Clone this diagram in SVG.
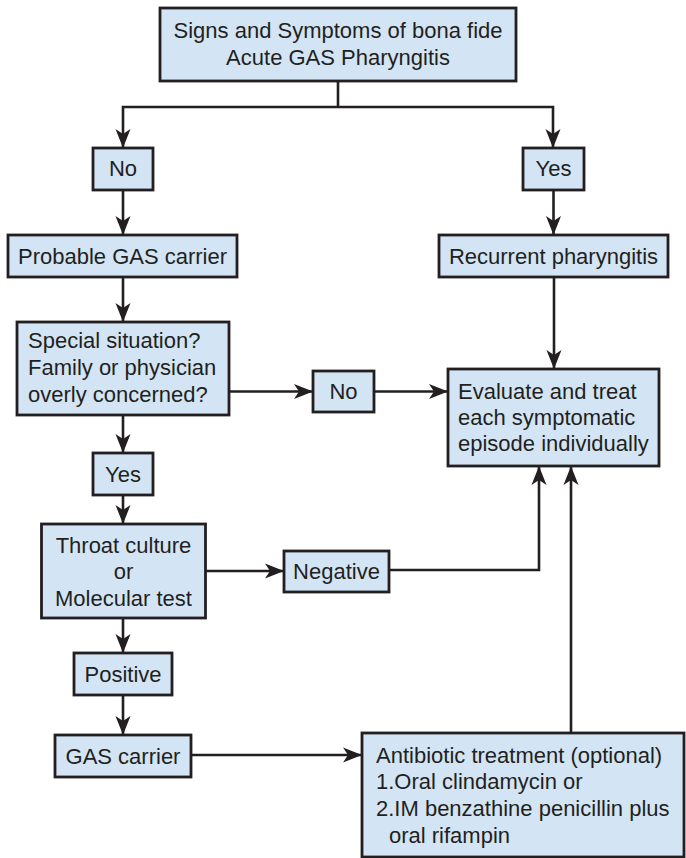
<svg xmlns="http://www.w3.org/2000/svg" width="686" height="858" viewBox="0 0 686 858">
<defs>
<marker id="ah" viewBox="-20 -8 21 16" refX="0" refY="0" markerWidth="21" markerHeight="16" markerUnits="userSpaceOnUse" orient="auto">
<path d="M0,0 L-19,-7.5 L-14,0 L-19,7.5 Z" fill="#231f20"/>
</marker>
<style>
.box{fill:#d3e5f5;stroke:#231f20;stroke-width:2.8}
.t{font-family:"Liberation Sans",Arial,sans-serif;font-size:22px;fill:#231f20}
.c{text-anchor:middle}
.ln{fill:none;stroke:#231f20;stroke-width:2.6}
.ar{fill:none;stroke:#231f20;stroke-width:2.6;marker-end:url(#ah)}
</style>
</defs>
<rect width="686" height="858" fill="#ffffff"/>
<g id="connectors">
<polyline class="ln" points="338,81 338,107"/>
<polyline class="ar" points="338,107 123,107 123,148"/>
<polyline class="ar" points="338,107 553,107 553,148"/>
<line class="ar" x1="123" y1="190" x2="123" y2="235"/>
<line class="ar" x1="553.5" y1="190" x2="553.5" y2="235"/>
<line class="ar" x1="123" y1="277" x2="123" y2="322"/>
<line class="ar" x1="554" y1="277" x2="554" y2="369"/>
<line class="ar" x1="229" y1="391.5" x2="313" y2="391.5"/>
<line class="ar" x1="374" y1="391.5" x2="448" y2="391.5"/>
<line class="ar" x1="123" y1="415" x2="123" y2="453"/>
<line class="ar" x1="123" y1="495" x2="123" y2="524"/>
<line class="ar" x1="205" y1="571" x2="284" y2="571"/>
<polyline class="ar" points="389,570 539,570 539,466"/>
<line class="ar" x1="123" y1="618" x2="123" y2="653"/>
<line class="ar" x1="123" y1="695" x2="123" y2="735"/>
<line class="ar" x1="191" y1="755" x2="362" y2="755"/>
<line class="ar" x1="571" y1="733" x2="571" y2="466"/>
</g>
<g id="n-signs">
<rect class="box" x="160" y="8" width="356" height="73"/>
<text class="t c" x="338" y="38">Signs and Symptoms of bona fide</text>
<text class="t c" x="338" y="65">Acute GAS Pharyngitis</text>
</g>
<g id="n-no1">
<rect class="box" x="93" y="148" width="60" height="42"/>
<text class="t c" x="123" y="176">No</text>
</g>
<g id="n-yes1">
<rect class="box" x="523" y="148" width="61" height="42"/>
<text class="t c" x="553.5" y="176">Yes</text>
</g>
<g id="n-probable">
<rect class="box" x="8" y="235" width="229" height="42"/>
<text class="t c" x="122.5" y="264">Probable GAS carrier</text>
</g>
<g id="n-recurrent">
<rect class="box" x="439" y="235" width="229" height="42"/>
<text class="t c" x="553.5" y="264">Recurrent pharyngitis</text>
</g>
<g id="n-special">
<rect class="box" x="17" y="322" width="212" height="93"/>
<text class="t" x="28" y="348">Special situation?</text>
<text class="t" x="28" y="375">Family or physician</text>
<text class="t" x="28" y="402">overly concerned?</text>
</g>
<g id="n-no2">
<rect class="box" x="313" y="371" width="61" height="41"/>
<text class="t c" x="343.5" y="399">No</text>
</g>
<g id="n-evaluate">
<rect class="box" x="448" y="369" width="211" height="97"/>
<text class="t" x="458" y="399">Evaluate and treat</text>
<text class="t" x="458" y="425">each symptomatic</text>
<text class="t" x="458" y="451">episode individually</text>
</g>
<g id="n-yes2">
<rect class="box" x="93" y="453" width="60" height="42"/>
<text class="t c" x="123" y="482">Yes</text>
</g>
<g id="n-throat">
<rect class="box" x="41.5" y="524" width="164" height="94"/>
<text class="t c" x="123.5" y="553">Throat culture</text>
<text class="t c" x="123.5" y="579">or</text>
<text class="t c" x="123.5" y="606">Molecular test</text>
</g>
<g id="n-negative">
<rect class="box" x="284" y="551" width="105" height="41"/>
<text class="t c" x="336.5" y="579">Negative</text>
</g>
<g id="n-positive">
<rect class="box" x="74" y="653" width="98" height="42"/>
<text class="t c" x="123" y="682">Positive</text>
</g>
<g id="n-gascarrier">
<rect class="box" x="55" y="735" width="136" height="42"/>
<text class="t c" x="123" y="764">GAS carrier</text>
</g>
<g id="n-antibiotic">
<rect class="box" x="362" y="733" width="322" height="124"/>
<text class="t" x="376" y="763">Antibiotic treatment (optional)</text>
<text class="t" x="376" y="789">1.Oral clindamycin or</text>
<text class="t" x="376" y="816">2.IM benzathine penicillin plus</text>
<text class="t" x="389" y="843">oral rifampin</text>
</g>
</svg>
